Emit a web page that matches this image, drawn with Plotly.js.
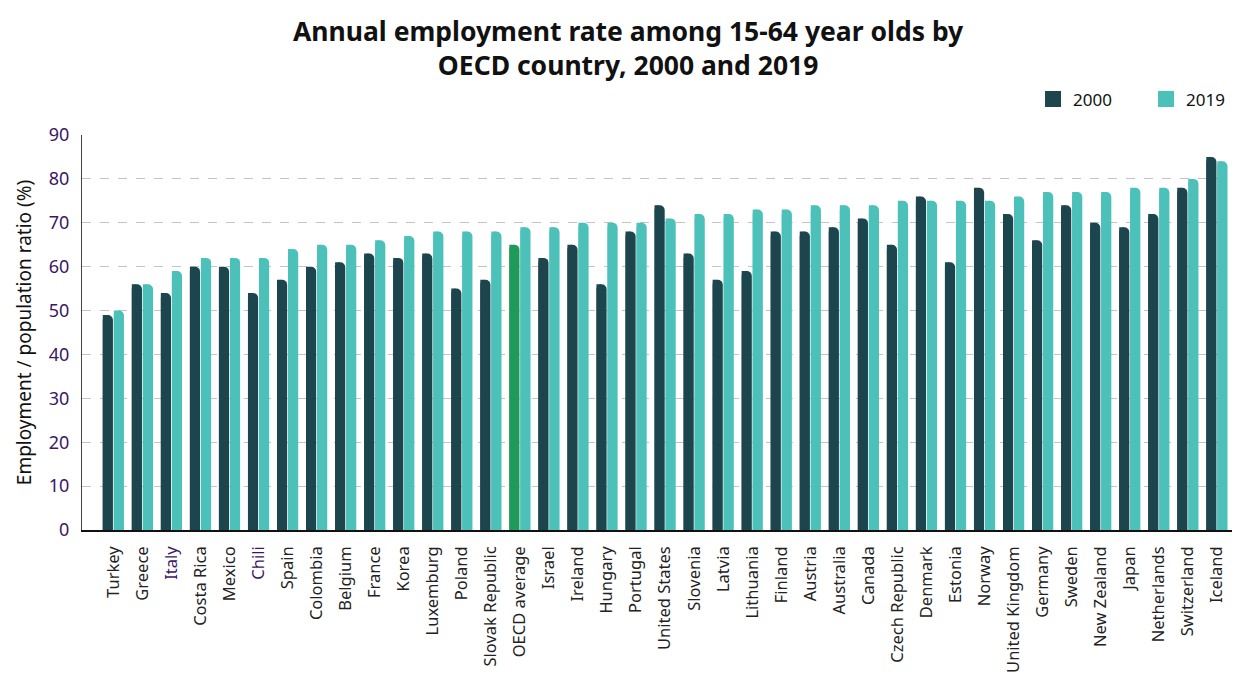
<!DOCTYPE html>
<html>
<head>
<meta charset="utf-8">
<script src="https://cdn.plot.ly/plotly-3.0.1.min.js"></script>
<style>html,body{margin:0;padding:0;background:#fff;}#chart{width:1234px;height:680px;}</style>
</head>
<body>
<div id="chart"></div>
<script>
const countries = ["Turkey","Greece","Italy","Costa Rica","Mexico","Chili","Spain","Colombia","Belgium","France","Korea","Luxemburg","Poland","Slovak Republic","OECD average","Israel","Ireland","Hungary","Portugal","United States","Slovenia","Latvia","Lithuania","Finland","Austria","Australia","Canada","Czech Republic","Denmark","Estonia","Norway","United Kingdom","Germany","Sweden","New Zealand","Japan","Netherlands","Switzerland","Iceland"];
const rate2000 = [49,56,54,60,60,54,57,60,61,63,62,63,55,57,65,62,65,56,68,74,63,57,59,68,68,69,71,65,76,61,78,72,66,74,70,69,72,78,85];
const rate2019 = [50,56,59,62,62,62,64,65,65,66,67,68,68,68,69,69,70,70,70,71,72,72,73,73,74,74,74,75,75,75,75,76,77,77,77,78,78,80,84];
const highlighted = ["Italy","Chili"];
const averageLabel = "OECD average";

const DARK = "#1c454d", TEAL = "#4cc1ba", GREEN = "#1f9a5b", PURPLE = "#3b1766";
const darkColors = countries.map(c => c === averageLabel ? GREEN : DARK);
const ticktext = countries.map(c => highlighted.includes(c) ? `<span style="color:${PURPLE}">${c}</span>` : c);

const W = 0.35;
const traces = [
  {type:"bar", name:"2000", x:countries, y:rate2000, offset:-0.365, width:W, legendgroup:"a",
   marker:{color:darkColors, cornerradius:12}, hoverinfo:"x+y", showlegend:false},
  {type:"bar", name:"2000", x:countries, y:rate2000, offset:-0.365, width:W*0.45, legendgroup:"a",
   marker:{color:darkColors}, showlegend:false, hoverinfo:"skip"},
  {type:"bar", name:"2019", x:countries, y:rate2019, offset:0.015, width:W, legendgroup:"b",
   marker:{color:TEAL, cornerradius:12}, hoverinfo:"x+y", showlegend:false},
  {type:"bar", name:"2019", x:countries, y:rate2019, offset:0.015, width:W*0.45, legendgroup:"b",
   marker:{color:TEAL}, showlegend:false, hoverinfo:"skip"},
  {type:"scatter", mode:"markers", name:"2000", x:[null], y:[null], legendgroup:"a",
   marker:{symbol:"square", size:19, color:DARK}, hoverinfo:"skip"},
  {type:"scatter", mode:"markers", name:"2019", x:[null], y:[null], legendgroup:"b",
   marker:{symbol:"square", size:19, color:TEAL}, hoverinfo:"skip"}
];

const layout = {
  width:1234, height:680,
  margin:{l:82, r:2, t:135, b:150, autoexpand:false},
  paper_bgcolor:"#fff", plot_bgcolor:"#fff",
  font:{family:"Noto Sans, Open Sans, sans-serif", color:"#222"},
  title:{text:"<b>Annual employment rate among 15-64 year olds by<br>OECD country, 2000 and 2019</b>",
         x:0.509, xanchor:"center", y:0.94, yanchor:"top", font:{size:26.5, color:"#111"}},
  barmode:"overlay",
  showlegend:true,
  legend:{orientation:"h", x:1.0235, xanchor:"right", y:1.09, yanchor:"middle",
          font:{size:17, color:"#111"}, itemwidth:30, traceorder:"normal", itemsizing:"trace",
          entrywidth:68, entrywidthmode:"pixels"},
  xaxis:{type:"category", tickmode:"array", tickvals:countries, ticktext:ticktext,
         tickangle:-90, tickfont:{size:16.5, color:"#222"}, showline:true, linecolor:"#111",
         linewidth:1.5, ticks:"", showgrid:false, range:[-1.08, countries.length-0.48],
         ticklabelstandoff:8},
  yaxis:{range:[0,90], tickvals:[0,10,20,30,40,50,60,70,80,90], tickfont:{size:18, color:PURPLE},
         showgrid:true, gridcolor:"#c4c4c4", griddash:"dash", gridwidth:1, zeroline:false,
         showline:true, linecolor:"#444", linewidth:1, ticks:"", ticklabelstandoff:8,
         title:{text:"Employment / population ratio (%)", font:{size:19, color:"#111"}, standoff:12}}
};

Plotly.newPlot("chart", traces, layout, {displayModeBar:false});
</script>
</body>
</html>
